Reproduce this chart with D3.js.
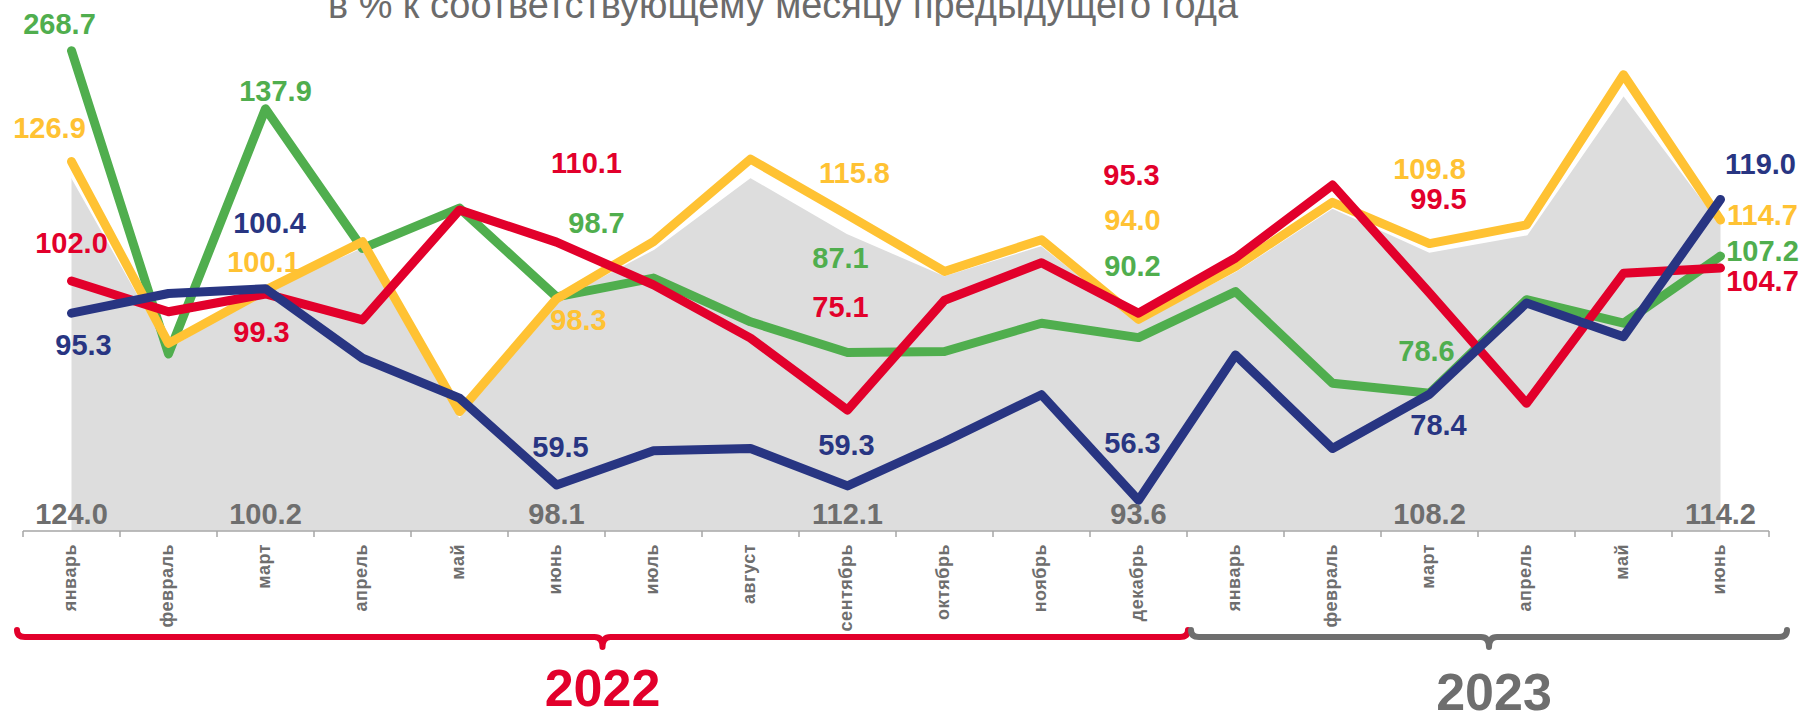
<!DOCTYPE html>
<html>
<head>
    <meta charset="utf-8">
    <title>Индексы, в % к соответствующему месяцу предыдущего года</title>
    <script src="https://d3js.org/d3.v7.min.js"></script>
    <style>
        body { margin: 0; background: #fff; }
        svg { display: block; font-family: "Liberation Sans", Arial, sans-serif; }
        .value { font-weight: bold; font-size: 29px; text-anchor: middle; }
        .month { font-weight: bold; font-size: 18px; letter-spacing: 0.5px; fill: #6e6e6e; text-anchor: end; }
    </style>
</head>
<body>
<svg width="1803" height="715"></svg>
<script>
    var title = "в % к соответствующему месяцу предыдущего года";

    var months = ["январь", "февраль", "март", "апрель", "май", "июнь", "июль", "август", "сентябрь",
        "октябрь", "ноябрь", "декабрь", "январь", "февраль", "март", "апрель", "май", "июнь"];
    var years = ["2022", "2023"];

    // серая область - общий индекс
    var total = [124.0, 88.2, 100.2, 109.2, 74.0, 98.1, 108.8, 123.8, 112.1, 103.3, 109.6, 93.6,
        104.2, 117.4, 108.2, 111.8, 141.0, 114.2];
    var yellow = [126.9, 89.0, 100.1, 110.2, 74.8, 98.3, 110.2, 127.4, 115.8, 104.0, 110.6, 94.0,
        105.0, 118.4, 109.8, 113.7, 145.0, 114.7];
    var green = [268.7, 86.8, 137.9, 108.8, 117.2, 98.7, 102.6, 93.5, 87.1, 87.3, 93.2, 90.2,
        99.8, 80.7, 78.6, 98.1, 93.2, 107.2];
    var red = [102.0, 95.6, 99.3, 93.9, 116.8, 110.1, 101.2, 90.1, 75.1, 98.0, 105.8, 95.3,
        106.8, 122.0, 99.5, 76.5, 103.6, 104.7];
    var blue = [95.3, 99.4, 100.4, 85.9, 77.6, 59.5, 66.6, 67.1, 59.3, 68.5, 78.3, 56.3,
        86.6, 67.1, 78.4, 97.4, 90.4, 119.0];

    // подписи - каждый третий месяц
    var labeled = [0, 2, 5, 8, 11, 14, 17];

    var series = [
        {name: "green", values: green, color: "#50ae4e",
            off: [[-12, -17], [10, -8], [40, -64], [-7, -84], [-6, -62], [-3, -32], [42, 5]]},
        {name: "yellow", values: yellow, color: "#ffc233",
            off: [[-22, -24], [-2, -18], [22, 31], [7, -32], [-6, -89], [0, -65], [42, 5]]},
        {name: "red", values: red, color: "#e2002b",
            off: [[0, -28], [-4, 48], [30, -69], [-7, -93], [-7, -128], [9, -84], [42, 23]]},
        {name: "blue", values: blue, color: "#283582",
            off: [[12, 42], [4, -56], [4, -28], [-1, -31], [-6, -47], [9, 41], [40, -25]]}
    ];

    var svg = d3.select("svg"),
        left = 23, right = 1769,
        axisY = 531;

    var x = d3.scaleBand()
        .domain(d3.range(months.length))
        .range([left, right]);
    var cx = function (i) { return x(i) + x.bandwidth() / 2; };

    var y = d3.scaleLinear()
        .domain([50, 150])
        .range([530.5, 50.7])
        .clamp(true);

    // заголовок (обрезан сверху, как на слайде)
    svg.append("text")
        .attr("x", 783)
        .attr("y", 18)
        .attr("text-anchor", "middle")
        .style("font-size", "37.9px")
        .style("fill", "#6b6b6b")
        .text(title);

    // серая область
    var area = d3.area()
        .x(function (d, i) { return cx(i); })
        .y0(y(50))
        .y1(function (d) { return y(d); });

    svg.append("path")
        .datum(total)
        .attr("d", area)
        .style("fill", "#dddddd");

    svg.append("path")
        .datum(total)
        .attr("d", d3.line().x(function (d, i) { return cx(i); }).y(function (d) { return y(d); }))
        .style("fill", "none")
        .style("stroke", "#fff")
        .style("stroke-width", 3);

    // ось X
    var xAxis = svg.append("g").attr("class", "x-axis");
    xAxis.append("line")
        .attr("x1", left).attr("x2", right)
        .attr("y1", axisY).attr("y2", axisY)
        .style("stroke", "#a6a6a6")
        .style("stroke-width", 1.5);
    xAxis.selectAll("line.tick")
        .data(d3.range(months.length + 1))
        .enter().append("line")
        .attr("class", "tick")
        .attr("x1", function (i) { return left + i * x.bandwidth(); })
        .attr("x2", function (i) { return left + i * x.bandwidth(); })
        .attr("y1", axisY).attr("y2", axisY + 6)
        .style("stroke", "#a6a6a6")
        .style("stroke-width", 1.5);
    xAxis.selectAll("text")
        .data(months)
        .enter().append("text")
        .attr("class", "month")
        .attr("transform", function (d, i) {
            return "translate(" + (cx(i) + 4) + "," + (axisY + 13) + ")rotate(-90)";
        })
        .text(function (d) { return d; });

    // линии
    var line = d3.line()
        .x(function (d, i) { return cx(i); })
        .y(function (d) { return y(d); });

    svg.selectAll("path.series")
        .data(series)
        .enter().append("path")
        .attr("class", "series")
        .attr("d", function (s) { return line(s.values); })
        .style("fill", "none")
        .style("stroke", function (s) { return s.color; })
        .style("stroke-width", 9)
        .style("stroke-linejoin", "round")
        .style("stroke-linecap", "round");

    // подписи значений
    series.forEach(function (s) {
        svg.append("g").selectAll("text")
            .data(labeled)
            .enter().append("text")
            .attr("class", "value")
            .attr("x", function (i, k) { return cx(i) + s.off[k][0]; })
            .attr("y", function (i, k) { return y(s.values[i]) + s.off[k][1]; })
            .style("fill", s.color)
            .text(function (i) { return s.values[i].toFixed(1); });
    });

    svg.append("g").selectAll("text")
        .data(labeled)
        .enter().append("text")
        .attr("class", "value")
        .attr("x", function (i) { return cx(i); })
        .attr("y", 524)
        .style("fill", "#6e6e6e")
        .text(function (i) { return total[i].toFixed(1); });

    // фигурные скобки по годам
    var brace = function (x0, x1, y0) {
        var m = (x0 + x1) / 2, r = 8;
        return "M" + x0 + "," + (y0 - 7)
            + "Q" + x0 + "," + y0 + " " + (x0 + r) + "," + y0
            + "L" + (m - r) + "," + y0
            + "Q" + m + "," + y0 + " " + m + "," + (y0 + 10)
            + "Q" + m + "," + y0 + " " + (m + r) + "," + y0
            + "L" + (x1 - r) + "," + y0
            + "Q" + x1 + "," + y0 + " " + x1 + "," + (y0 - 7);
    };
    var yearColors = ["#e2002b", "#6e6e6e"];
    var edges = [[17, 1188], [1191, 1787]];
    var yearY = [706, 710];

    years.forEach(function (yr, k) {
        svg.append("path")
            .attr("d", brace(edges[k][0], edges[k][1], 637))
            .style("fill", "none")
            .style("stroke", yearColors[k])
            .style("stroke-width", 6)
            .style("stroke-linecap", "round")
            .style("stroke-linejoin", "round");
        svg.append("text")
            .attr("x", (edges[k][0] + edges[k][1]) / 2 + (k ? 5 : 0))
            .attr("y", yearY[k])
            .attr("text-anchor", "middle")
            .style("font-weight", "bold")
            .style("font-size", "52px")
            .style("fill", yearColors[k])
            .text(yr);
    });
</script>
</body>
</html>
